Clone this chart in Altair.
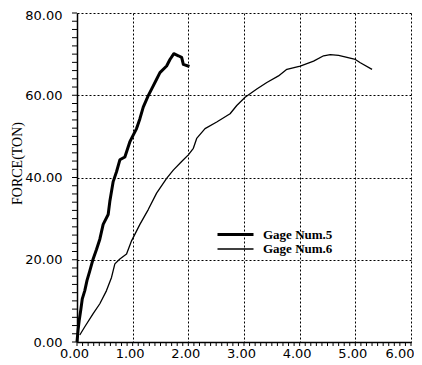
import altair as alt
import pandas as pd

# Gage Num.5 (thick line)
g5_x = [0, 0.02, 0.04, 0.07, 0.095, 0.14, 0.18, 0.23, 0.29, 0.35, 0.41, 0.47, 0.56, 0.59,
        0.65, 0.71, 0.77, 0.86, 0.95, 0.98, 1.07, 1.13, 1.19, 1.28, 1.34, 1.43, 1.49, 1.61,
        1.67, 1.74, 1.82, 1.88, 1.91, 2.02]
g5_f = [0, 3, 5.3, 8, 10.5, 12.5, 15, 17.3, 20.2, 22.5, 25, 28.6, 31, 34.2,
        39, 41.4, 44.3, 45, 48.7, 49.5, 51.9, 54.3, 57.1, 59.9, 61.5, 63.9, 65.5, 67.1,
        68.7, 70.1, 69.6, 69.2, 67.5, 67]

# Gage Num.6 (thin line)
g6_x = [0.05, 0.14, 0.29, 0.41, 0.53, 0.62, 0.68, 0.77, 0.89, 0.98, 1.13, 1.28, 1.43, 1.61,
        1.73, 1.88, 2.0, 2.09, 2.15, 2.30, 2.51, 2.75, 2.87, 3.02, 3.23, 3.41, 3.62, 3.77,
        4.01, 4.25, 4.43, 4.55, 4.70, 4.85, 5.0, 5.09, 5.30]
g6_f = [1.7, 3.7, 6.9, 9.3, 12.5, 15.7, 19, 20.2, 21.4, 24.6, 28.6, 32.2, 36.2, 39.8,
        41.8, 43.9, 45.5, 47.1, 49.5, 51.9, 53.5, 55.5, 57.5, 59.5, 61.5, 63.1, 64.7, 66.3,
        67.1, 68.3, 69.6, 69.9, 69.7, 69.2, 68.7, 67.9, 66.3]

series_names = ["Gage Num.5", "Gage Num.6"]

x_ticks = [round(i * 0.1, 1) for i in range(61)]   # minor tick positions
y_ticks = list(range(0, 81, 2))
x_major_vals = [0, 1, 2, 3, 4, 5, 6]
y_major_vals = [0, 20, 40, 60, 80]

rows = []
for i, (x, f) in enumerate(zip(g5_x, g5_f)):
    rows.append({"series": series_names[0], "x": x, "f": f, "i": i})
for i, (x, f) in enumerate(zip(g6_x, g6_f)):
    rows.append({"series": series_names[1], "x": x, "f": f, "i": i})
df = pd.DataFrame(rows)
df_xt = pd.DataFrame({"x": x_ticks})
df_yt = pd.DataFrame({"f": y_ticks})

x_scale = alt.Scale(domain=[0, 6], nice=False, zero=False)
y_scale = alt.Scale(domain=[0, 80], nice=False)

x_axis = alt.Axis(
    values=x_major_vals,
    format=".2f",
    labelOverlap=False,
    labelFlush=False,
    labelFont="DejaVu Sans",
    labelFontSize=13,
    labelColor="black",
    labelPadding=5,
    labelAlign={"condition": {"test": "datum.value >= 5.99", "value": "right"}, "value": "center"},
    labelOffset={"condition": {"test": "datum.value >= 5.99", "value": 3}, "value": -3},
    ticks=False,
    domainColor="black",
    domainWidth=1.5,
    grid=True,
    gridColor="black",
    gridDash=[2, 2],
    gridWidth=1,
    title=None,
)

y_axis = alt.Axis(
    values=y_major_vals,
    format=".2f",
    labelOverlap=False,
    labelFlush=False,
    labelFont="DejaVu Sans",
    labelFontSize=13,
    labelColor="black",
    labelPadding=15,
    labelOffset={"condition": {"test": "datum.value >= 79.9", "value": 2}, "value": 0},
    ticks=False,
    domainColor="black",
    domainWidth=1.5,
    grid=True,
    gridColor="black",
    gridDash=[2, 2],
    gridWidth=1,
    title="FORCE(TON)",
    titleFont="Liberation Serif",
    titleFontSize=14,
    titleFontWeight="normal",
    titleColor="black",
    titleX=-60,
    titleY=150,
    titleAlign="center",
    titleBaseline="middle",
)

lines = (
    alt.Chart(df)
    .mark_line(color="black", strokeJoin="round")
    .encode(
        x=alt.X("x:Q", scale=x_scale, axis=x_axis),
        y=alt.Y("f:Q", scale=y_scale, axis=y_axis),
        detail="series:N",
        order="i:Q",
        strokeWidth=alt.StrokeWidth(
            "series:N",
            scale=alt.Scale(domain=series_names, range=[3, 1.3]),
            legend=alt.Legend(
                title=None,
                orient="none",
                legendX=151,
                legendY=214,
                padding=0,
                symbolType="M-3,0H3",
                symbolSize=144,
                symbolStrokeColor="black",
                symbolFillColor="transparent",
                labelFont="Liberation Serif",
                labelFontSize=13,
                labelFontWeight="bold",
                labelColor="black",
                labelOffset=20,
                rowPadding=-5,
            ),
        ),
    )
)

x_minor = (
    alt.Chart(df_xt)
    .mark_tick(orient="vertical", size=4, thickness=1, color="black", yOffset=2, opacity=1)
    .encode(
        x=alt.X("x:Q", scale=x_scale, axis=x_axis),
        y=alt.YDatum(0, scale=y_scale, axis=y_axis),
    )
)

y_minor = (
    alt.Chart(df_yt)
    .mark_tick(orient="horizontal", size=5, thickness=1, color="black", xOffset=-2.5, opacity=1)
    .encode(
        y=alt.Y("f:Q", scale=y_scale, axis=y_axis),
        x=alt.XDatum(0, scale=x_scale, axis=x_axis),
    )
)

chart = (
    alt.layer(lines, x_minor, y_minor)
    .properties(
        width=334,
        height=329,
        autosize=alt.AutoSizeParams(type="none"),
        padding={"left": 69, "top": 5, "right": 3, "bottom": 20},
    )
    .configure_view(stroke=None)
)

chart.save("out.html", embed_options={"renderer": "svg", "actions": False})
